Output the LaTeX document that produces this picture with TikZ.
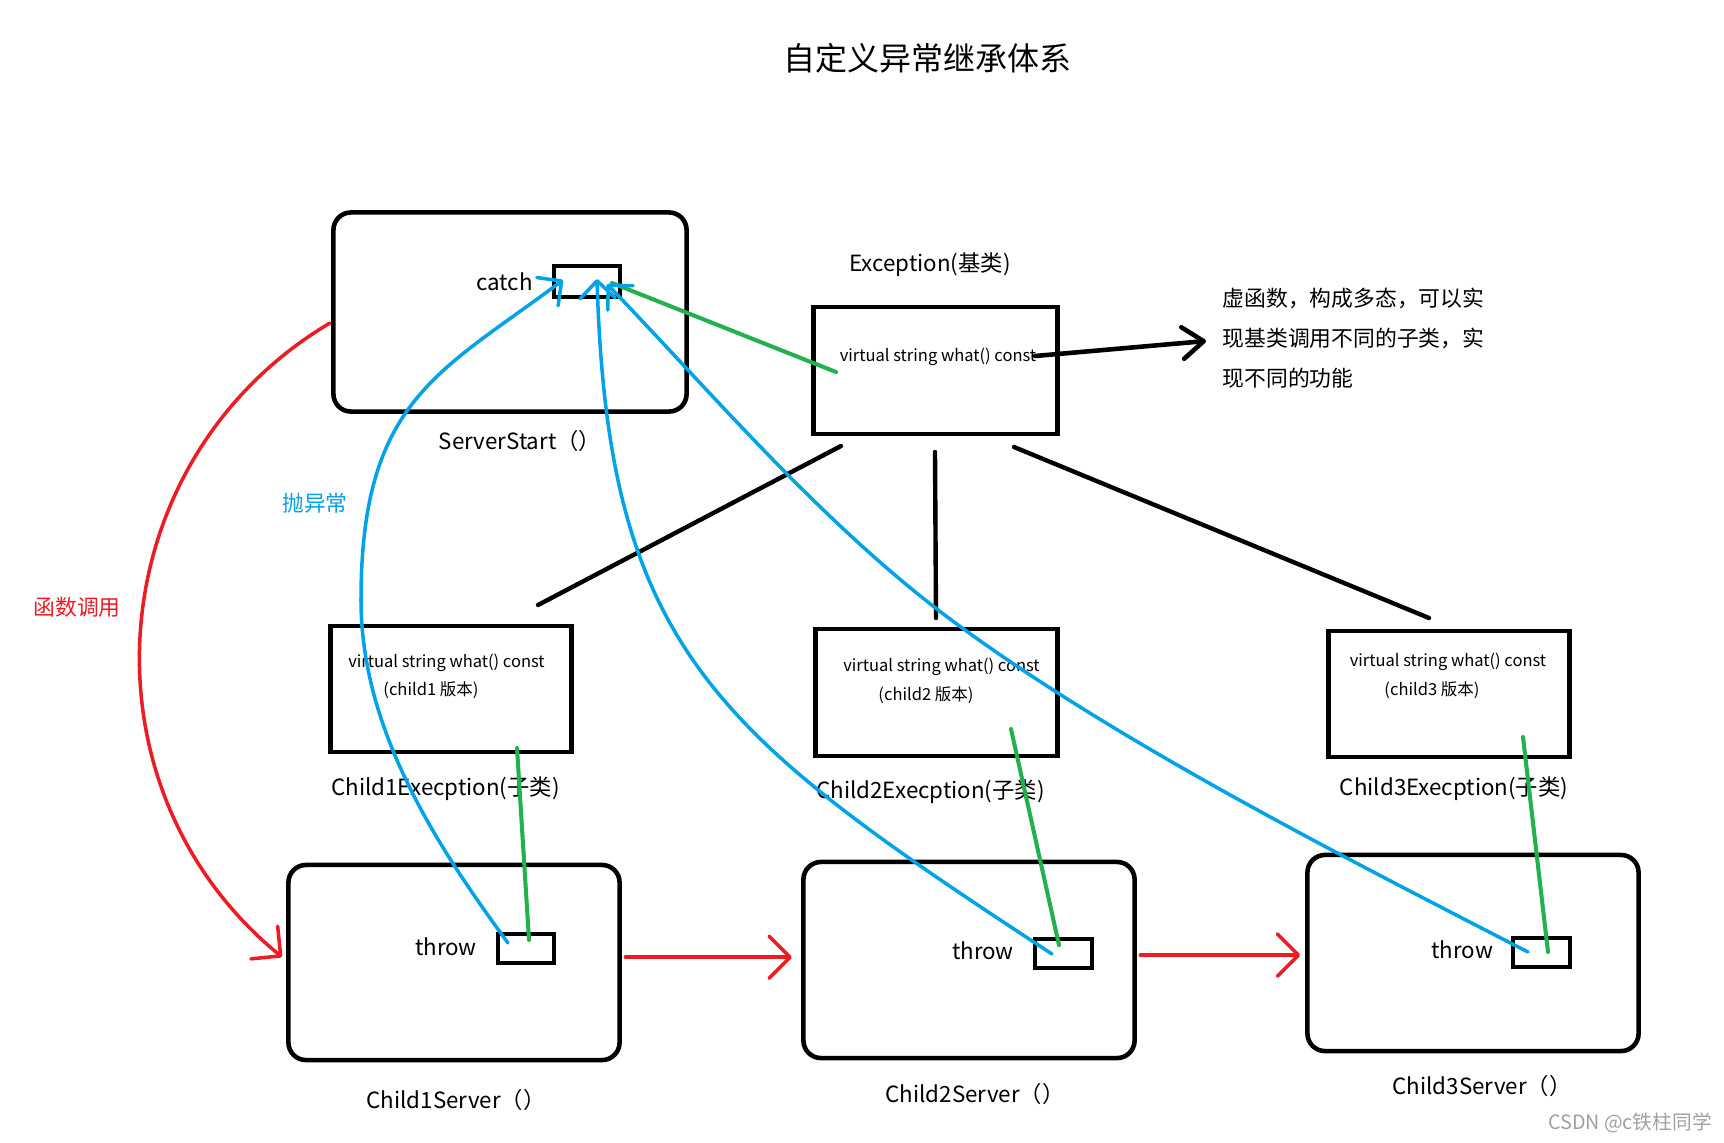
\documentclass[tikz,border=0pt]{standalone}
\usepackage{fontspec}
\setmainfont{Noto Sans CJK SC}
\usetikzlibrary{arrows.meta}
\definecolor{pred}{HTML}{ED1C24}
\definecolor{pblue}{HTML}{00A2E8}
\definecolor{pgreen}{HTML}{22B14C}
\definecolor{wmgray}{HTML}{A0A0A0}
\begin{document}
\begin{tikzpicture}[x=0.01cm,y=-0.01cm,
  rbox/.style={draw, line width=1.3pt, rounded corners=5pt, inner sep=0pt},
  sbox/.style={draw, line width=1.3pt, inner sep=0pt},
  lab/.style={inner sep=0pt, font=\fontsize{6.35pt}{8pt}\selectfont},
  cjklab/.style={inner sep=0pt, font=\fontsize{6.2pt}{8pt}\selectfont},
  sm/.style={inner sep=0pt, font=\fontsize{4.7pt}{6pt}\selectfont},
  blk/.style={draw=black, line width=1.25pt, line cap=round},
  grn/.style={draw=pgreen, line width=1.15pt, line cap=round},
  redarr/.style={draw=pred, line width=1pt, line cap=round, line join=round, -{Straight Barb[length=6pt,width=12pt,round]}},
  bluarr/.style={draw=pblue, line width=1pt, line cap=round, line join=round, -{Straight Barb[length=5pt,width=10pt,round]}},
  blkarr/.style={draw=black, line width=1.3pt, line cap=round, line join=round, -{Straight Barb[length=6pt,width=9pt,round]}}
]
\fill[white] (0,0) rectangle (1724,1142);
\useasboundingbox (0,0) rectangle (1724,1142);

% title
\node[inner sep=0pt, font=\fontsize{9.1pt}{11pt}\selectfont] (title) at (927,58) {自定义异常继承体系};

% ServerStart
\node[rbox, minimum width=3.53cm, minimum height=1.99cm] (ss) at (510,312) {};
\node[sbox, minimum width=0.66cm, minimum height=0.31cm] (cb) at (587,281.5) {};
\node[lab] (catch) at (504.5,282) {catch};
\node[lab] (ssl) at (520,441) {ServerStart（）};

% Exception base
\node[sbox, minimum width=2.44cm, minimum height=1.27cm] (ex) at (935.5,370.5) {};
\node[lab] (exl) at (930,265) {Exception(基类)};
\node[sm] (exw) at (938,357) {virtual string what() const};

% note
\node[inner sep=0pt, anchor=west, align=left, font=\fontsize{6.2pt}{11.38pt}\selectfont] (note) at (1222,338)
  {虚函数，构成多态，可以实\\现基类调用不同的子类，实\\现不同的功能};

% child exceptions
\node[sbox, minimum width=2.41cm, minimum height=1.26cm] (c1e) at (451,689) {};
\node[sm] (c1w) at (446.5,663) {virtual string what() const};
\node[sm] (c1v) at (431,690) {(child1 版本)};
\node[lab] (c1l) at (445.5,789) {Child1Execption(子类)};

\node[sbox, minimum width=2.42cm, minimum height=1.27cm] (c2e) at (936.5,692.5) {};
\node[sm] (c2w) at (941.5,667) {virtual string what() const};
\node[sm] (c2v) at (926,695) {(child2 版本)};
\node[lab] (c2l) at (930.5,792) {Child2Execption(子类)};

\node[sbox, minimum width=2.41cm, minimum height=1.26cm] (c3e) at (1449,694) {};
\node[sm] (c3w) at (1448,662) {virtual string what() const};
\node[sm] (c3v) at (1432,690) {(child3 版本)};
\node[lab] (c3l) at (1454,789) {Child3Execption(子类)};

% servers
\node[rbox, minimum width=3.31cm, minimum height=1.95cm] (c1s) at (454,962.5) {};
\node[sbox, minimum width=0.56cm, minimum height=0.29cm] (t1) at (526,948.5) {};
\node[lab] (th1) at (446,947) {throw};
\node[lab] (c1sl) at (456,1100) {Child1Server（）};

\node[rbox, minimum width=3.31cm, minimum height=1.96cm] (c2s) at (969,960) {};
\node[sbox, minimum width=0.57cm, minimum height=0.29cm] (t2) at (1063.5,953.5) {};
\node[lab] (th2) at (983,951) {throw};
\node[lab] (c2sl) at (975,1094) {Child2Server（）};

\node[rbox, minimum width=3.31cm, minimum height=1.96cm] (c3s) at (1473,953) {};
\node[sbox, minimum width=0.57cm, minimum height=0.29cm] (t3) at (1541.5,952.5) {};
\node[lab] (th3) at (1462,950) {throw};
\node[lab] (c3sl) at (1482,1086) {Child3Server（）};

% side labels
\node[cjklab, text=pblue] (pao) at (315,503) {抛异常};
\node[cjklab, text=pred] (hs) at (77,607) {函数调用};
\node[inner sep=0pt, text=wmgray, font=\fontsize{5.6pt}{7pt}\selectfont] (wm) at (1630,1123) {CSDN @c铁柱同学};

% coordinates for hand-drawn connector ends
\coordinate (i1a) at (841,446); \coordinate (i1b) at (538,605);
\coordinate (i2a) at (935,452); \coordinate (i2b) at (936,618);
\coordinate (i3a) at (1014,447); \coordinate (i3b) at (1429,618);
\coordinate (g0a) at (836,372); \coordinate (g0b) at (612,283);
\coordinate (g1a) at (529,940); \coordinate (g1b) at (517,748);
\coordinate (g2a) at (1059,945); \coordinate (g2b) at (1011,729);
\coordinate (g3a) at (1548,952); \coordinate (g3b) at (1523,737);
\coordinate (b1s) at (508,943); \coordinate (b1m) at (361,600); \coordinate (b1e) at (563,280);
\coordinate (b2s) at (1052,954); \coordinate (b2e) at (597,279);
\coordinate (b3s) at (1528,952); \coordinate (b3m) at (946,616); \coordinate (b3e) at (607,284);
\coordinate (r0) at (330,323); \coordinate (r1) at (282,957);
\coordinate (k0) at (1035,356); \coordinate (k1) at (1206,341);

% inheritance lines
\draw[blk] (i1a) -- (i1b);
\draw[blk] (i2a) -- (i2b);
\draw[blk] (i3a) -- (i3b);

% black arrow to note
\draw[blkarr] (k0) -- (k1);

% green lines
\draw[grn] (g0a) -- (g0b);
\draw[grn] (g1a) -- (g1b);
\draw[grn] (g2a) -- (g2b);
\draw[grn] (g3a) -- (g3b);

% red arrows
\draw[redarr] (r0) .. controls (99,460) and (73,786) .. (r1);
\draw[redarr, shorten <=1pt, shorten >=2.6pt] ([yshift=1.5pt]c1s.east) -- ([yshift=1.5pt]c1s.east -| c2s.west);
\draw[redarr, shorten <=1pt, shorten >=1.4pt] ([yshift=1.4pt]c2s.east) -- ([yshift=1.4pt]c2s.east -| c3s.west);

% blue arrows
\draw[bluarr] (b1s) .. controls (437,846) and (361,730) .. (b1m) .. controls (361,400) and (439,373) .. (b1e);
\draw[bluarr] (b2s) .. controls (716,734) and (608,650) .. (b2e);
\draw[bluarr] (b3s) .. controls (1328,849) and (1106,736) .. (b3m) .. controls (820,521) and (711,392) .. (b3e);
\end{tikzpicture}
\end{document}
